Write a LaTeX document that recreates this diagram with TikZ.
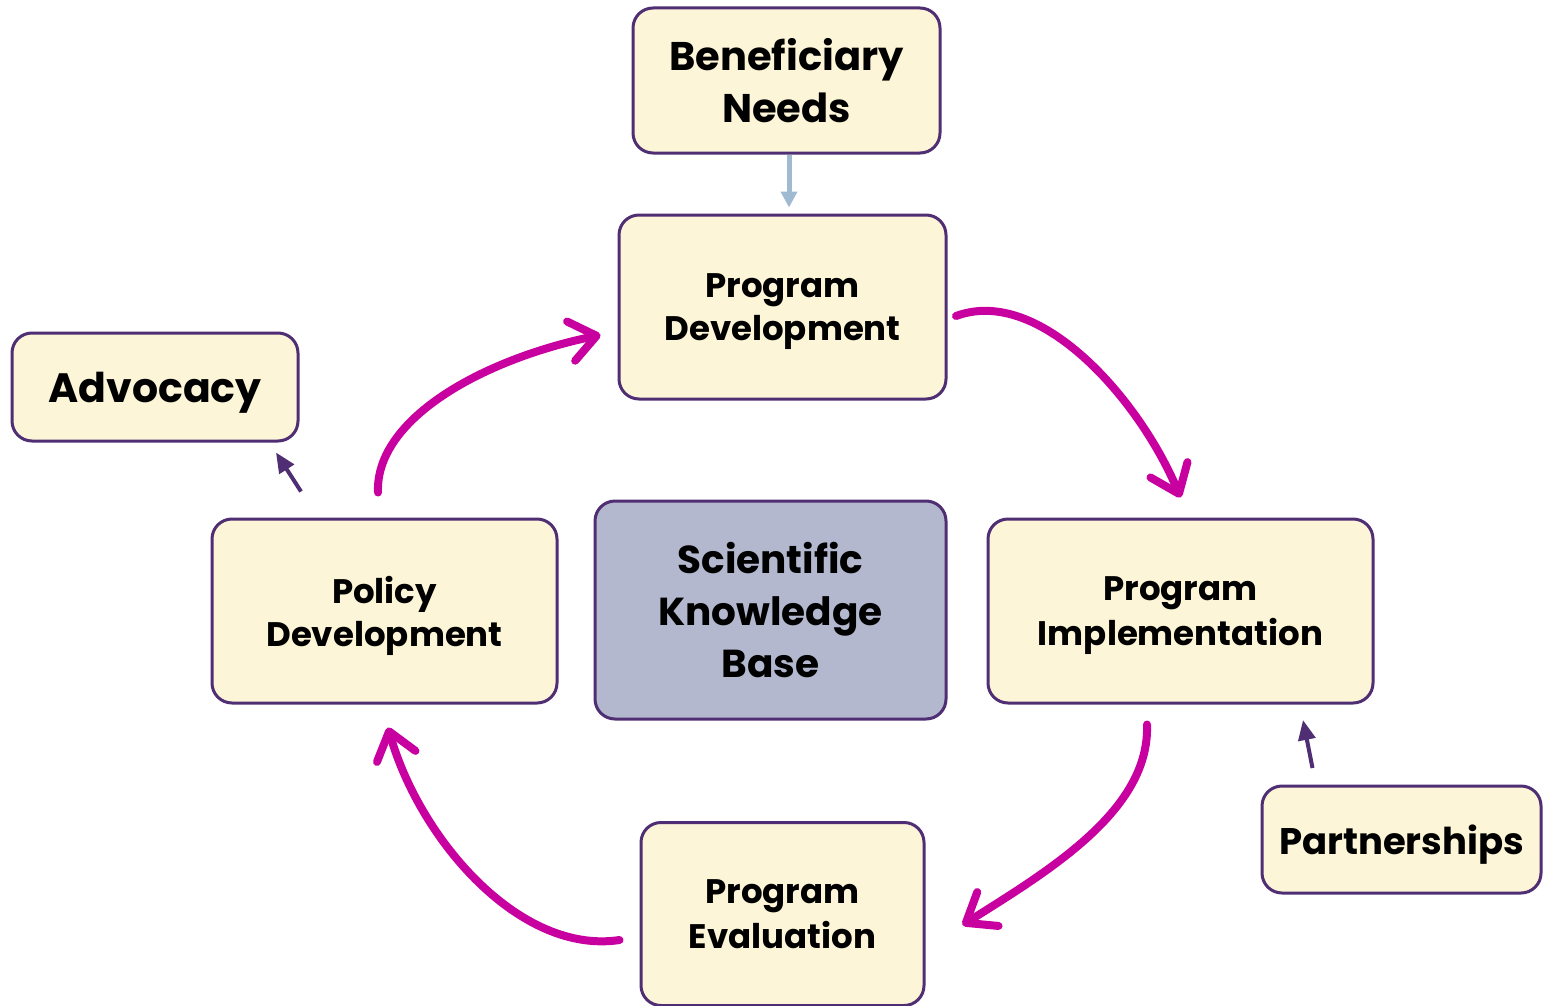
\documentclass[tikz,border=0pt]{standalone}
\usepackage{fontspec}
\setmainfont{Poppins}
\usetikzlibrary{arrows.meta}
\definecolor{cream}{RGB}{253,245,215}
\definecolor{edge}{RGB}{80,46,115}
\definecolor{core}{RGB}{179,184,207}
\definecolor{cyc}{RGB}{200,0,160}
\definecolor{feed}{RGB}{160,186,210}
\tikzset{
  box/.style={draw=edge, fill=cream, line width=3pt, rounded corners=20pt,
    align=center, inner sep=0pt, text depth=0pt, font=\bfseries},
  cycle/.style={draw=cyc, line width=8pt, line cap=round,
    -{Straight Barb[length=26pt,width=40pt,round]}},
  side/.style={draw=edge, line width=4pt, -{Triangle[length=20pt,width=17pt]}},
}
\newcommand{\fs}[1]{\fontsize{#1}{#1}\selectfont}

\begin{document}
\begin{tikzpicture}[x=1pt,y=-1pt]
  \useasboundingbox (0,0) rectangle (1544,1006);
  \node (ben)  [box, minimum width=307, minimum height=145] at (786.5,80.5)
    {\fs{40}Beneficiary\\[10pt]\fs{40}Needs};
  \node (pdev) [box, minimum width=327, minimum height=184] at (782.5,307)
    {\fs{34}Program\\[8pt]\fs{34}Development};
  \node (adv)  [box, minimum width=286, minimum height=108] at (155,387)
    {\fs{41}Advocacy};
  \node (pol)  [box, minimum width=345, minimum height=184] at (384.5,611)
    {\fs{34}Policy\\[8pt]\fs{34}Development};
  \node (sci)  [box, fill=core, text depth=-10pt, minimum width=351, minimum height=218,
    font=\bfseries\fontsize{39}{52}\selectfont] at (770.5,610)
    {Scientific\\Knowledge\\Base};
  \node (impl) [box, minimum width=385, minimum height=184] at (1180.5,611)
    {\fs{34}Program\\[8pt]\fs{34}Implementation};
  \node (eval) [box, text depth=-4pt, minimum width=283, minimum height=183] at (782.5,914)
    {\fs{34}Program\\[8pt]\fs{34}Evaluation};
  \node (part) [box, minimum width=279, minimum height=107] at (1401.5,839.5)
    {\fs{37}Partnerships};

  \draw[draw=feed, line width=5pt, -{Triangle[length=16pt,width=16pt]}, shorten >=6pt]
    ([xshift=2.5]ben.south) -- ([xshift=6.5]pdev.north);

  \draw[cycle] ([shift={(-6.5,-25)}]pol.north)
    .. controls (375,420) and (480,360) .. ([shift={(-17,28)}]pdev.west);
  \draw[cycle] ([shift={(8.5,9)}]pdev.east)
    .. controls (1040,285) and (1140,400) .. ([shift={(0,-20)}]impl.north);
  \draw[cycle] ([shift={(-33.5,20)}]impl.south)
    .. controls (1150,810) and (1050,870) .. ([shift={(37,11)}]eval.east);
  \draw[cycle] ([shift={(-20,26)}]eval.west)
    .. controls (520,955) and (420,840) .. ([shift={(3.5,23)}]pol.south);

  \draw[side] ([shift={(-83.5,-26)}]pol.north) -- ([shift={(121,10)}]adv.south);
  \draw[side] ([shift={(-89,-16.5)}]part.north) -- ([shift={(122.5,15.5)}]impl.south);
\end{tikzpicture}
\end{document}
